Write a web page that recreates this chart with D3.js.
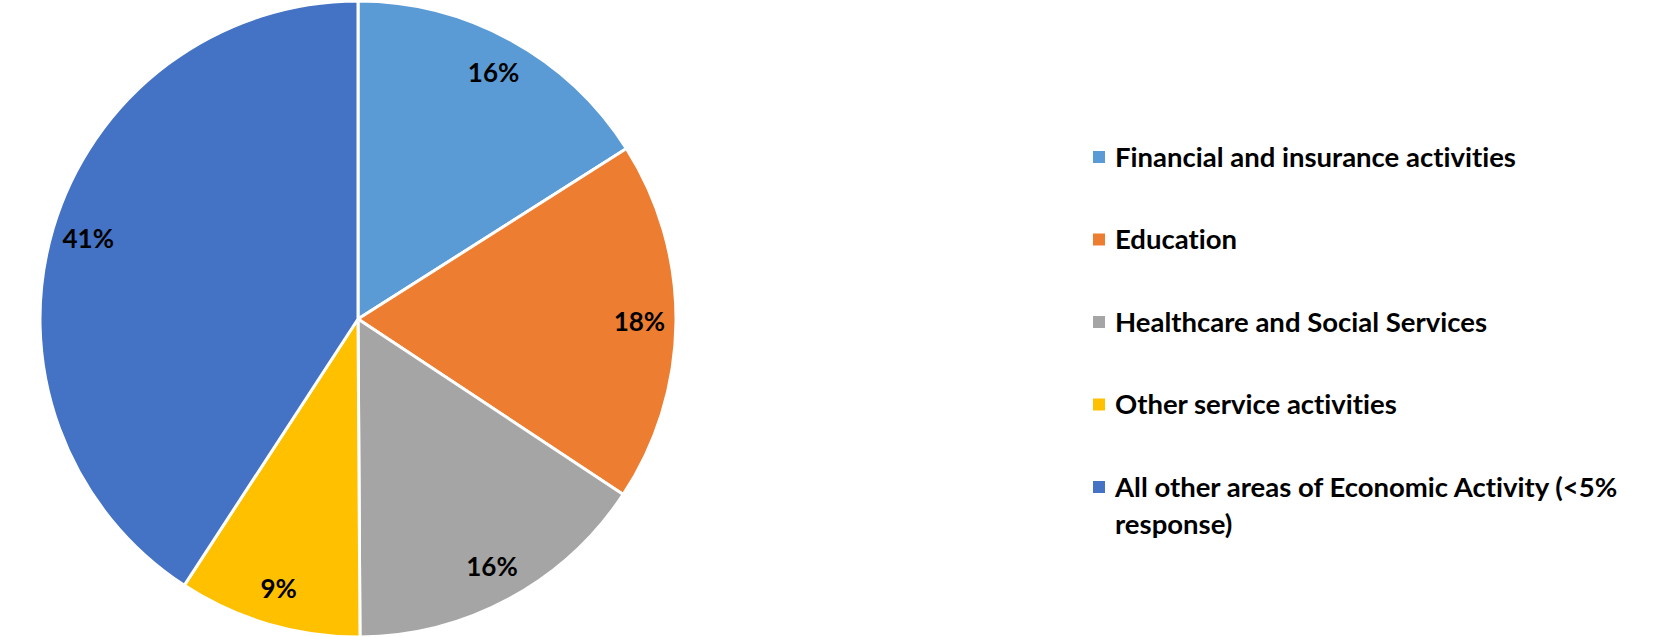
<!DOCTYPE html>
<html>
<head>
<meta charset="utf-8">
<script src="https://cdn.jsdelivr.net/npm/d3@7"></script>
<style>
  html, body { margin: 0; padding: 0; background: #fff; }
  text { font-family: Lato, "Open Sans", sans-serif; font-weight: bold; fill: #000;
         font-variant-ligatures: none; font-feature-settings: "liga" 0; }
</style>
</head>
<body>
<div id="chart"></div>
<script>
// Economic activity of respondents (share of responses, %)
const categories = [
  "Financial and insurance activities",
  "Education",
  "Healthcare and Social Services",
  "Other service activities",
  "All other areas of Economic Activity (<5% response)"
];
const shares = [16.0, 18.3, 15.6, 9.3, 40.8];
const colors = ["#5B9BD5", "#ED7D31", "#A5A5A5", "#FFC000", "#4472C4"];

// legend lines (last entry wraps onto two lines)
const legendLines = [
  ["Financial and insurance activities"],
  ["Education"],
  ["Healthcare and Social Services"],
  ["Other service activities"],
  ["All other areas of Economic Activity (<5%", "response)"]
];

const width = 1664;
const height = 637;
const cx = 358, cy = 319, radius = 318;

const svg = d3.select("#chart")
  .append("svg")
  .attr("width", width)
  .attr("height", height);

const data = categories.map((c, i) => ({ name: c, value: shares[i], color: colors[i] }));

const pie = d3.pie().value(d => d.value).sort(null);
const arcs = pie(data);

const arc = d3.arc().innerRadius(0).outerRadius(radius);
const labelArc = d3.arc().innerRadius(radius * 0.885).outerRadius(radius * 0.885);

const g = svg.append("g").attr("transform", `translate(${cx},${cy})`);

// slices
g.selectAll("path.slice")
  .data(arcs)
  .enter()
  .append("path")
  .attr("class", "slice")
  .attr("d", arc)
  .attr("fill", d => d.data.color)
  .attr("stroke", "#fff")
  .attr("stroke-width", 3)
  .attr("stroke-linejoin", "round");

// percentage labels
g.selectAll("text.pct")
  .data(arcs)
  .enter()
  .append("text")
  .attr("class", "pct")
  .attr("transform", d => `translate(${labelArc.centroid(d)})`)
  .attr("text-anchor", "middle")
  .attr("dy", "0.36em")
  .style("font-size", "26px")
  .text(d => Math.round(d.data.value) + "%");

// legend
const legendY = d3.scalePoint()
  .domain(categories)
  .range([157, 487]);

const legend = svg.append("g")
  .selectAll("g.item")
  .data(data)
  .enter()
  .append("g")
  .attr("class", "item")
  .attr("transform", d => `translate(1093,${legendY(d.name)})`);

legend.append("rect")
  .attr("x", 0)
  .attr("y", -6)
  .attr("width", 12)
  .attr("height", 12)
  .attr("fill", d => d.color);

legend.append("text")
  .style("font-size", "27.5px")
  .selectAll("tspan")
  .data((d, i) => legendLines[i])
  .enter()
  .append("tspan")
  .attr("x", 22)
  .attr("dy", (d, i) => i === 0 ? "0.36em" : "37px")
  .text(d => d);
</script>
</body>
</html>
